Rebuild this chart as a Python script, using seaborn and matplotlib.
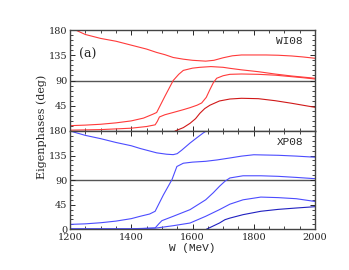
import numpy as np
import pandas as pd
import matplotlib
matplotlib.use("Agg")
import matplotlib.pyplot as plt
import seaborn as sns
from matplotlib.ticker import MultipleLocator

# ---- data ----
# Top panel (WI08), red
w_r1 = [1218, 1250, 1300, 1350, 1400, 1450, 1483, 1510, 1537, 1570, 1600, 1643, 1670, 1700, 1730, 1760, 1800, 1840, 1880, 1924, 1960, 2000]
v_r1 = [180, 172, 165, 160, 153, 146, 140, 136, 131, 128, 126, 124.5, 126, 130.5, 134, 135.5, 135.5, 135.5, 135, 133.7, 132, 129.6]

w_r2 = [1200, 1250, 1300, 1350, 1400, 1440, 1471, 1483, 1510, 1537, 1555, 1570, 1600, 1624, 1660, 1700, 1722, 1760, 1815, 1870, 1924, 2000]
v_r2 = [9.5, 10.5, 12, 14.5, 18, 23, 30, 33, 62, 90, 101, 108, 112, 113.5, 114.8, 113.5, 111.7, 109, 105.7, 101.5, 98, 94]

w_r3 = [1200, 1300, 1400, 1450, 1478, 1485, 1492, 1510, 1537, 1570, 1592, 1615, 1630, 1645, 1657, 1668, 1679, 1700, 1722, 1760, 1815, 1870, 1924, 1960, 2000]
v_r3 = [1.5, 2.5, 5, 8, 11, 17, 25, 29, 33, 38, 41.6, 46, 50, 60, 74, 86, 94, 98.5, 101, 101.6, 101, 99.5, 96.8, 95, 92.7]

w_r4 = [1543, 1570, 1592, 1610, 1624, 1640, 1657, 1688, 1722, 1760, 1815, 1870, 1924, 2000]
v_r4 = [0, 6, 13.7, 22, 31.5, 40, 46, 53.5, 57, 58.3, 57.6, 54, 49.4, 42.2]

# Bottom panel (XP08), blue
w_b1 = [1200, 1250, 1300, 1350, 1400, 1429, 1483, 1515, 1537, 1550, 1565, 1592, 1615, 1635, 1645]
v_b1 = [180, 172, 166, 159, 153, 148, 140, 137.5, 136.7, 138.5, 145, 158, 168, 176.4, 180]

w_b2 = [1200, 1250, 1300, 1350, 1400, 1429, 1460, 1478, 1505, 1533, 1549, 1570, 1600, 1643, 1680, 1722, 1760, 1800, 1881, 1940, 2000]
v_b2 = [9, 10, 12, 15, 19.5, 23.8, 28, 33, 63, 91, 115, 121, 123, 124.5, 127, 130.6, 134, 136.5, 135.5, 134, 132]

w_b3 = [1200, 1300, 1400, 1478, 1490, 1500, 1537, 1592, 1643, 1668, 1688, 1706, 1722, 1765, 1823, 1880, 1939, 2000]
v_b3 = [1, 1, 1, 2.4, 10, 15.8, 23.8, 36, 54, 67, 78.7, 88, 94, 98, 98, 97, 95, 92.7]

w_b4 = [1200, 1300, 1400, 1483, 1537, 1592, 1643, 1688, 1722, 1765, 1823, 1880, 1939, 2000]
v_b4 = [0.5, 0.5, 0.5, 2.4, 6.6, 11.5, 23.8, 36, 46, 54, 59, 58, 56, 51]

w_b5 = [1645, 1688, 1706, 1722, 1765, 1823, 1880, 1939, 2000]
v_b5 = [0, 11.5, 17.6, 20.5, 26.8, 33, 36.5, 39, 41.4]

x_ticks = [1200, 1400, 1600, 1800, 2000]
y_ticks = [0, 45, 90, 135, 180]

sns.set_style("ticks")
plt.rcParams['font.family'] = ['DejaVu Serif']

fig = plt.figure(figsize=(3.49, 2.70), dpi=100)
L, R = 70 / 349, 315 / 349
ax1 = fig.add_axes([L, 1 - 131 / 270, R - L, 101 / 270])
ax2 = fig.add_axes([L, 1 - 229.3 / 270, R - L, 98.3 / 270])

red = "#ff3a3a"
dred = "#d01818"
blue = "#4c4cff"
dblue = "#2020c0"

def draw(ax, w, v, c):
    df = pd.DataFrame({"W": w, "phase": v})
    sns.lineplot(data=df, x="W", y="phase", ax=ax, color=c, linewidth=0.8, sort=False)

draw(ax1, w_r1, v_r1, red)
draw(ax1, w_r2, v_r2, red)
draw(ax1, w_r3, v_r3, red)
draw(ax1, w_r4, v_r4, dred)

draw(ax2, w_b1, v_b1, blue)
draw(ax2, w_b2, v_b2, blue)
draw(ax2, w_b3, v_b3, blue)
draw(ax2, w_b4, v_b4, blue)
draw(ax2, w_b5, v_b5, dblue)

for ax in (ax1, ax2):
    ax.set_xlim(1200, 2000)
    ax.set_ylim(0, 180)
    ax.axhline(90, color="#555555", linewidth=1.0, zorder=0)
    ax.set_xticks(x_ticks)
    ax.set_yticks(y_ticks)
    ax.xaxis.set_minor_locator(MultipleLocator(50))
    ax.yaxis.set_minor_locator(MultipleLocator(9))
    ax.tick_params(which="both", direction="in", top=True, right=True, labelsize=7)
    ax.tick_params(axis="y", pad=2)
    ax.tick_params(axis="x", pad=3)
    ax.tick_params(which="major", length=3.5, width=0.7)
    ax.tick_params(which="minor", length=2, width=0.6)
    for s in ax.spines.values():
        s.set_linewidth(1.0)
        s.set_color("#444444")
    ax.set_xlabel("")
    ax.set_ylabel("")

ax1.set_xticklabels([])
ax1.set_yticklabels(["", "45", "90", "135", "180"])
ax2.set_xticklabels([str(t) for t in x_ticks])
ax2.set_yticklabels([str(t) for t in y_ticks])

ax1.text(1229, 137, "(a)", fontsize=9, va="center", ha="left")
ax1.text(1960, 160, "WI08", fontsize=8, va="center", ha="right", family="Liberation Mono")
ax2.text(1962, 160, "XP08", fontsize=8, va="center", ha="right", family="Liberation Mono")

fig.text(42 / 349, 1 - 127 / 270, "Eigenphases (deg)", rotation=90, fontsize=8,
         va="center", ha="center")
fig.text(192 / 349, 1 - 248 / 270, "W (MeV)", fontsize=8, va="center", ha="center",
         family="Liberation Mono")

fig.savefig("out.png", dpi=100)
